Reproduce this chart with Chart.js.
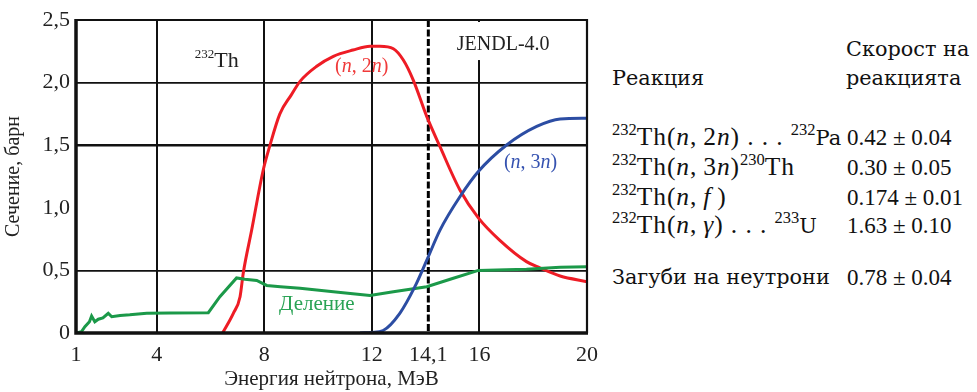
<!DOCTYPE html>
<html>
<head>
<meta charset="utf-8">
<script src="https://cdn.jsdelivr.net/npm/chart.js@4.4.1/dist/chart.umd.min.js"></script>
<style>
    body { margin: 0; background: #fff; width: 977px; height: 392px; position: relative; overflow: hidden; }
    #chartBox { position: absolute; left: 0; top: 0; width: 600px; height: 392px; }
    .txt { position: absolute; white-space: nowrap; line-height: 1; color: #111; }
    .slab { font-family: 'DejaVu Serif', serif; font-size: 20.8px; }
    .math { font-family: 'Liberation Serif', 'Times New Roman', serif; font-size: 23px; }
    .lbl { font-size: 25.5px; letter-spacing: 0.9px; }
    .math i { font-style: italic; }
    .math sup { font-size: 16.5px; vertical-align: 0; position: relative; top: -10px; letter-spacing: 0; }
    .math .pa { font-family: 'DejaVu Serif', serif; font-size: 21px; letter-spacing: 0; }
</style>
</head>
<body>
<div id="chartBox"><canvas id="xsChart"></canvas></div>

<div class="txt slab" style="left:846px; top:39px;">Скорост на</div>
<div class="txt slab" style="left:846px; top:68px;">реакцията</div>
<div class="txt slab" style="left:612px; top:68px;">Реакция</div>

<div class="txt math lbl" style="left:612px; top:124px;"><sup>232</sup>Th(<i>n</i>,&thinsp;2<i>n</i>) . . . <sup>232</sup><span class="pa">Pa</span></div>
<div class="txt math lbl" style="left:612px; top:154px;"><sup>232</sup>Th(<i>n</i>,&thinsp;3<i>n</i>)<sup>230</sup>Th</div>
<div class="txt math lbl" style="left:612px; top:184px;"><sup>232</sup>Th(<i>n</i>,&thinsp;<i>f</i>&thinsp;)</div>
<div class="txt math lbl" style="left:612px; top:212px;"><sup>232</sup>Th(<i>n</i>,&thinsp;<i>γ</i>) . . . <sup>233</sup><span class="pa">U</span></div>

<div class="txt math" style="left:847px; top:126px;">0.42 ± 0.04</div>
<div class="txt math" style="left:847px; top:156px;">0.30 ± 0.05</div>
<div class="txt math" style="left:847px; top:186px;">0.174 ± 0.01</div>
<div class="txt math" style="left:847px; top:214px;">1.63 ± 0.10</div>

<div class="txt slab" style="left:612px; top:267px;">Загуби на неутрони</div>
<div class="txt math" style="left:847px; top:266px;">0.78 ± 0.04</div>

<script>
// Energy axis ticks (MeV)
const energyTicks = [1, 4, 8, 12, 14.1, 16, 20];
const gridEnergies = [4, 8, 12, 16];
const markerEnergy = 14.1;

// Fission (Деление)
const fissionE = [1.0, 1.2, 1.33, 1.5, 1.58, 1.7, 1.83, 2.0, 2.2, 2.33, 2.64, 3.0, 3.63, 4.5, 5.92, 6.35, 6.97, 7.28, 7.72, 8.09, 8.6, 9.33, 10.57, 11.2, 11.93, 12.8, 14.04, 15.03, 15.96, 17.0, 17.75, 19.0, 20.0];
const fissionXs = [0, 0.01, 0.05, 0.09, 0.136, 0.09, 0.11, 0.12, 0.157, 0.13, 0.14, 0.145, 0.157, 0.16, 0.162, 0.29, 0.44, 0.43, 0.42, 0.38, 0.37, 0.357, 0.33, 0.315, 0.30, 0.33, 0.37, 0.437, 0.50, 0.505, 0.51, 0.525, 0.53];

// (n, 2n)
const n2nE = [6.45, 6.85, 7.1, 7.22, 7.53, 7.96, 8.2, 8.58, 9.0, 9.33, 9.95, 10.57, 11.3, 11.93, 12.3, 12.8, 13.17, 13.54, 14.04, 14.53, 15.28, 15.96, 16.76, 17.75, 18.25, 19.0, 20.0];
const n2nXs = [0, 0.157, 0.29, 0.48, 0.82, 1.30, 1.49, 1.75, 1.90, 2.01, 2.13, 2.21, 2.26, 2.29, 2.29, 2.27, 2.18, 2.02, 1.73, 1.49, 1.14, 0.92, 0.74, 0.57, 0.52, 0.455, 0.41];

// (n, 3n)
const n3nE = [11.56, 12.0, 12.42, 13.04, 13.6, 14.04, 14.53, 15.28, 15.96, 17.0, 18.13, 19.0, 20.0];
const n3nXs = [0, 0.005, 0.02, 0.157, 0.37, 0.58, 0.82, 1.09, 1.29, 1.50, 1.65, 1.71, 1.715];

const serif = "'Liberation Serif', 'Times New Roman', serif";
const RED = '#ee1c25', BLUE = '#2c4da3', GREEN = '#1b9949';

function toPoints(xs, ys) {
    return xs.map((x, i) => ({ x: x, y: ys[i] }));
}

// draw a run of text pieces with different fonts / offsets
function drawParts(ctx, x, y, parts, color) {
    ctx.fillStyle = color;
    ctx.textBaseline = 'alphabetic';
    ctx.textAlign = 'left';
    let cx = x;
    parts.forEach(p => {
        ctx.font = p.font;
        ctx.fillText(p.t, cx, y + (p.dy || 0));
        cx += ctx.measureText(p.t).width;
    });
    return cx - x;
}

const framePlugin = {
    id: 'frame',
    beforeDatasetsDraw(chart) {
        const { ctx, chartArea: a, scales: { x } } = chart;
        const px = x.getPixelForValue(markerEnergy);
        ctx.save();
        ctx.strokeStyle = '#000';
        ctx.lineWidth = 3;
        ctx.setLineDash([7, 2.5]);
        ctx.beginPath();
        ctx.moveTo(px, a.top);
        ctx.lineTo(px, a.bottom);
        ctx.stroke();
        ctx.restore();
    },
    afterDatasetsDraw(chart) {
        const { ctx, chartArea: a, scales: { x, y } } = chart;
        ctx.save();
        ctx.strokeStyle = '#111';
        // top + right
        ctx.lineWidth = 2.2;
        ctx.beginPath();
        ctx.moveTo(a.left, a.top);
        ctx.lineTo(a.right, a.top);
        ctx.lineTo(a.right, a.bottom);
        ctx.stroke();
        // left + bottom (heavier)
        ctx.lineWidth = 3.5;
        ctx.beginPath();
        ctx.moveTo(a.left, a.top - 1);
        ctx.lineTo(a.left, a.bottom);
        ctx.lineTo(a.right + 1, a.bottom);
        ctx.stroke();

        // labels
        const f20 = '20px ' + serif;
        const i20 = 'italic 20px ' + serif;

        // JENDL-4.0 with white box
        ctx.font = '20px ' + serif;
        const jx = x.getPixelForValue(15.16), jy = y.getPixelForValue(2.26);
        const jw = ctx.measureText('JENDL-4.0').width;
        ctx.fillStyle = '#fff';
        ctx.fillRect(jx - 6, a.top + 2, jw + 12, jy + 10 - a.top - 2);
        drawParts(ctx, jx, jy, [{ t: 'JENDL-4.0', font: '20px ' + serif }], '#222');

        drawParts(ctx, x.getPixelForValue(5.42), y.getPixelForValue(2.125), [
            { t: '232', font: '13px ' + serif, dy: -9 },
            { t: 'Th', font: '22px ' + serif }
        ], '#222');

        drawParts(ctx, x.getPixelForValue(10.63), y.getPixelForValue(2.085), [
            { t: '(', font: f20 }, { t: 'n', font: i20 }, { t: ', 2', font: f20 },
            { t: 'n', font: i20 }, { t: ')', font: f20 }
        ], '#f03a3a');

        drawParts(ctx, x.getPixelForValue(16.91), y.getPixelForValue(1.318), [
            { t: '(', font: f20 }, { t: 'n', font: i20 }, { t: ', 3', font: f20 },
            { t: 'n', font: i20 }, { t: ')', font: f20 }
        ], '#3552b0');

        drawParts(ctx, x.getPixelForValue(8.55), y.getPixelForValue(0.184), [
            { t: 'Деление', font: '21px ' + serif }
        ], '#2aa355');

        ctx.restore();
    }
};

const lineStyle = { borderWidth: 3, pointRadius: 0, fill: false };

new Chart(document.getElementById('xsChart'), {
    type: 'line',
    data: {
        datasets: [
            Object.assign({ label: '(n, 3n)', data: toPoints(n3nE, n3nXs), borderColor: BLUE, cubicInterpolationMode: 'monotone' }, lineStyle),
            Object.assign({ label: 'Деление', data: toPoints(fissionE, fissionXs), borderColor: GREEN, tension: 0 }, lineStyle),
            Object.assign({ label: '(n, 2n)', data: toPoints(n2nE, n2nXs), borderColor: RED, cubicInterpolationMode: 'monotone' }, lineStyle)
        ]
    },
    plugins: [framePlugin],
    options: {
        responsive: true,
        maintainAspectRatio: false,
        animation: false,
        layout: { padding: { top: 20, right: 13, left: 0, bottom: 0 } },
        plugins: {
            legend: { display: false },
            tooltip: { enabled: false }
        },
        scales: {
            x: {
                type: 'linear',
                min: 1,
                max: 20,
                afterBuildTicks: (scale) => { scale.ticks = energyTicks.map(v => ({ value: v })); },
                afterFit: (scale) => {
                    scale.height = 59;
                    scale.paddingLeft = 0;
                    scale.paddingRight = 0;
                },
                border: { display: false },
                grid: {
                    drawTicks: false,
                    color: (c) => gridEnergies.includes(c.tick && c.tick.value) ? '#111' : 'rgba(0,0,0,0)',
                    lineWidth: 2
                },
                ticks: {
                    padding: 9,
                    color: '#222',
                    font: { family: serif, size: 22 },
                    maxRotation: 0,
                    autoSkip: false,
                    callback: (v) => String(v).replace('.', ',')
                },
                title: {
                    display: true,
                    text: 'Энергия нейтрона, МэВ',
                    color: '#222',
                    font: { family: serif, size: 21 },
                    padding: { top: 0, bottom: 0 }
                }
            },
            y: {
                min: 0,
                max: 2.5,
                ticks: {
                    stepSize: 0.5,
                    padding: 6,
                    color: '#222',
                    font: { family: serif, size: 22 },
                    callback: (v) => v === 0 ? '0' : v.toFixed(1).replace('.', ',')
                },
                afterFit: (scale) => {
                    scale.width = 76;
                    scale.paddingTop = 0;
                    scale.paddingBottom = 0;
                },
                border: { display: false },
                grid: {
                    drawTicks: false,
                    color: (c) => {
                        const v = c.tick && c.tick.value;
                        return (v === 0.5 || v === 1.5 || v === 2) ? '#111' : 'rgba(0,0,0,0)';
                    },
                    lineWidth: (c) => (c.tick && c.tick.value === 1.5) ? 2.6 : 1.7
                },
                title: {
                    display: true,
                    text: 'Сечение, барн',
                    color: '#222',
                    font: { family: serif, size: 20 },
                    padding: { top: 2, bottom: 0 }
                }
            }
        }
    }
});
</script>
</body>
</html>
